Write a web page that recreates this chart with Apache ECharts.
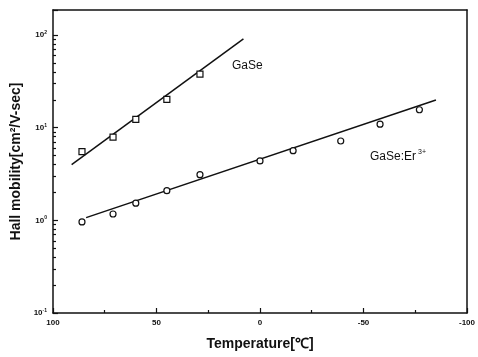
<!DOCTYPE html>
<html>
<head>
<meta charset="utf-8">
<script src="https://cdn.jsdelivr.net/npm/echarts@6/dist/echarts.min.js"></script>
<style>html,body{margin:0;padding:0;background:#fff;}#c{width:478px;height:357px;}</style>
</head>
<body>
<div id="c"></div>
<script>
// ---- data ----
const gaseTemps = [86, 71, 60, 45, 29];
const gaseVals = [5.5, 7.9, 12.3, 20.2, 37.9];
const erTemps = [86, 71, 60, 45, 29, 0, -16, -39, -58, -77];
const erVals = [0.96, 1.17, 1.53, 2.09, 3.11, 4.37, 5.64, 7.18, 10.9, 15.6];
const gaseFitTemps = [91, 8];
const gaseFitVals = [4.0, 90.6];
const erFitTemps = [84, -85];
const erFitVals = [1.07, 19.9];
const xTickLabels = ['-100', '-50', '0', '50', '100'];
const yMinorValues = [];
[0.1, 1, 10].forEach(d => { for (let k = 2; k <= 9; k++) yMinorValues.push(+(d * k).toPrecision(3)); });
const yMin = 0.1, yMax = 186;

const pairs = (xs, ys) => xs.map((x, i) => [x, ys[i]]);
const ink = '#111';
const bold = { fontFamily: 'Liberation Sans, Arial, sans-serif', fontWeight: 'bold', color: ink };

const chart = echarts.init(document.getElementById('c'), null, { renderer: 'canvas' });
chart.setOption({
  animation: false,
  backgroundColor: '#fff',
  grid: { left: 53, right: 9, top: 10, bottom: 44, containLabel: false },
  xAxis: [{
    type: 'value', min: -100, max: 100, interval: 50, inverse: true, position: 'bottom',
    axisLine: { show: true, onZero: false, lineStyle: { color: ink, width: 1.5 } },
    axisTick: { show: true, inside: true, length: 5, lineStyle: { color: ink, width: 1.2 } },
    minorTick: { show: true, splitNumber: 2, length: 3, lineStyle: { color: ink, width: 1.2 } },
    splitLine: { show: false },
    axisLabel: { ...bold, fontSize: 8, margin: 6, formatter: v => xTickLabels.find(t => +t === v) || '' },
    name: 'Temperature[℃]', nameLocation: 'middle', nameGap: 24,
    nameTextStyle: { ...bold, fontSize: 14 }
  }, {
    type: 'value', min: -100, max: 100, inverse: true, position: 'top',
    axisLine: { show: true, onZero: false, lineStyle: { color: ink, width: 1.5 } },
    axisTick: { show: false }, axisLabel: { show: false }, splitLine: { show: false }
  }],
  yAxis: [{
    type: 'log', logBase: 10, min: yMin, max: yMax, position: 'left',
    axisLine: { show: true, onZero: false, lineStyle: { color: ink, width: 1.5 } },
    axisTick: { show: true, inside: true, length: 5, lineStyle: { color: ink, width: 1.2 } },
    splitLine: { show: false }, minorTick: { show: false },
    axisLabel: {
      ...bold, fontSize: 8, margin: 6,
      formatter: v => {
        const e = Math.log10(v);
        if (Math.abs(e - Math.round(e)) > 1e-6) return '';
        return '{b|10}{s|' + Math.round(e) + '}';
      },
      rich: {
        b: { ...bold, fontSize: 8, lineHeight: 10 },
        s: { ...bold, fontSize: 5, verticalAlign: 'top', lineHeight: 10, padding: [0, 0, 4, 0] }
      }
    },
    name: 'Hall mobility[cm²/V-sec]', nameLocation: 'middle', nameGap: 25,
    nameTextStyle: { ...bold, fontSize: 14 }
  }, {
    type: 'value', min: -1, max: Math.log10(yMax), position: 'left', offset: 0,
    axisLine: { show: false, onZero: false },
    axisTick: { show: true, inside: true, length: 3, customValues: yMinorValues.map(v => Math.log10(v)), lineStyle: { color: ink, width: 1.2 } },
    axisLabel: { show: false }, splitLine: { show: false }
  }, {
    type: 'log', logBase: 10, min: yMin, max: yMax, position: 'right',
    axisLine: { show: true, onZero: false, lineStyle: { color: ink, width: 1.5 } },
    axisTick: { show: false }, axisLabel: { show: false }, splitLine: { show: false }
  }],
  graphic: [
    { type: 'text', left: 232, top: 60, style: { text: 'GaSe', font: '12px "Liberation Sans", Arial, sans-serif', fill: ink } },
    { type: 'text', left: 370, top: 149, style: {
      text: '{n|GaSe:Er}{s|3+}', fill: ink,
      rich: { n: { fontFamily: 'Liberation Sans, Arial, sans-serif', fontSize: 12, fill: ink, lineHeight: 15 },
              s: { fontFamily: 'Liberation Sans, Arial, sans-serif', fontSize: 7, fill: ink, verticalAlign: 'top', lineHeight: 15, padding: [0, 0, 6, 2] } }
    } }
  ],
  series: [
    { type: 'line', name: 'GaSe fit', data: pairs(gaseFitTemps, gaseFitVals), symbol: 'none', lineStyle: { color: ink, width: 1.5 }, z: 2 },
    { type: 'line', name: 'GaSe:Er fit', data: pairs(erFitTemps, erFitVals), symbol: 'none', lineStyle: { color: ink, width: 1.5 }, z: 2 },
    { type: 'scatter', name: 'GaSe', data: pairs(gaseTemps, gaseVals), symbol: 'rect', symbolSize: 6,
      itemStyle: { color: '#fff', borderColor: ink, borderWidth: 1.2, opacity: 1 }, z: 3 },
    { type: 'scatter', name: 'GaSe:Er3+', data: pairs(erTemps, erVals), symbol: 'circle', symbolSize: 6,
      itemStyle: { color: '#fff', borderColor: ink, borderWidth: 1.2, opacity: 1 }, z: 3 }
  ]
});
</script>
</body>
</html>
